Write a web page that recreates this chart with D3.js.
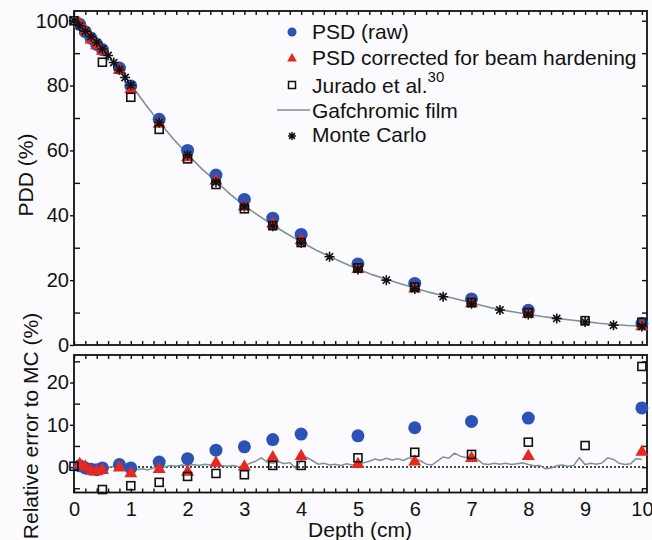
<!DOCTYPE html>
<html>
<head>
<meta charset="utf-8">
<script src="https://cdn.jsdelivr.net/npm/d3@7"></script>
<style>
  body { margin: 0; background: #fbfbfd; }
  svg { display: block; font-family: "Liberation Sans", Arial, sans-serif; }
</style>
</head>
<body>
<script>
var width = 652;
var height = 540;

// Monte Carlo reference
var mcDepth = [0, 0.1, 0.2, 0.3, 0.4, 0.5, 0.6, 0.7, 0.8, 0.9, 1, 1.5, 2, 2.5, 3, 3.5, 4, 4.5, 5, 5.5, 6, 6.5, 7, 7.5, 8, 8.5, 9, 9.5, 10];
var mcPdd = [100, 98.4, 96.8, 95.1, 93.3, 91.3, 89.3, 87.1, 84.9, 82.5, 80.1, 68.6, 58.6, 50.2, 42.7, 36.6, 31.5, 27.2, 23.3, 20.0, 17.3, 14.9, 12.7, 10.8, 9.4, 8.2, 7.1, 6.1, 5.7];

// PSD raw and corrected
var psdDepth = [0.1, 0.2, 0.3, 0.4, 0.5, 0.8, 1, 1.5, 2, 2.5, 3, 3.5, 4, 5, 6, 7, 8, 10];
var rawPdd = [98.9, 96.6, 94.6, 92.7, 91.1, 85.4, 79.9, 69.6, 60.0, 52.4, 44.9, 39.1, 34.1, 25.0, 19.0, 14.2, 10.7, 6.6];
var corrPdd = [99.2, 97.0, 94.3, 92.5, 90.8, 84.9, 79.0, 68.3, 58.0, 50.8, 42.8, 37.5, 32.4, 23.5, 17.5, 13.0, 9.7, 5.9];
var rawErr = [0.3, -0.2, -0.5, -0.6, -0.2, 0.6, -0.2, 1.2, 2.0, 4.0, 4.8, 6.5, 7.8, 7.4, 9.3, 10.8, 11.6, 14.0];
var corrErr = [0.8, 0.2, -0.8, -0.9, -0.6, 0.0, -1.4, -0.4, -1.0, 1.1, 0.2, 2.4, 2.7, 0.8, 1.4, 2.2, 2.7, 3.7];

// Jurado et al.
var jurDepth = [0, 0.5, 1, 1.5, 2, 2.5, 3, 3.5, 4, 5, 6, 7, 8, 9, 10];
var jurPdd = [100, 87.2, 76.4, 66.5, 57.4, 49.5, 42.0, 36.8, 31.6, 23.8, 17.9, 13.1, 10.0, 7.5, 7.0];
var jurErr = [0.2, -5.3, -4.4, -3.6, -2.2, -1.5, -1.8, 0.4, 0.4, 2.2, 3.5, 3.0, 5.9, 5.1, 23.8];

// Gafchromic film
var filmDepth = [0, 0.25, 0.5, 0.75, 1, 1.25, 1.5, 1.75, 2, 2.25, 2.5, 2.75, 3, 3.25, 3.5, 3.75, 4, 4.25, 4.5, 4.75, 5,
  5.25, 5.5, 5.75, 6, 6.25, 6.5, 6.75, 7, 7.25, 7.5, 7.75, 8, 8.25, 8.5, 8.75, 9, 9.25, 9.5, 9.75, 10];
var filmPdd = [100, 96.2, 91.5, 86.2, 80.4, 74.4, 68.8, 63.5, 58.8, 54.3, 50.5, 46.5, 42.9, 39.9, 37.0, 34.3, 31.8, 29.4, 27.3, 25.3, 23.4,
  21.7, 20.3, 18.9, 17.6, 16.3, 15.2, 14.1, 13.0, 11.9, 10.9, 10.2, 9.5, 8.8, 8.2, 7.7, 7.2, 6.7, 6.3, 6.0, 5.8];
// film relative error, every 0.1 cm from 0 to 10
var filmErr = [0.3, -0.2, -0.5, -0.7, -0.4, -0.6, -0.1, 0.2, -0.1, -0.4,
  -0.2, -0.6, -0.4, -0.7, -0.2, 0.3, 0.1, 0.4, 0.2, 0.5,
  0.3, 0.6, 0.4, 0.7, 0.5, 0.8, 0.4, 0.2, 0.4, 0.1,
  0.3, 0.9, 1.4, 2.2, 1.2, 0.9, 1.3, 0.8, 1.1, -0.3,
  1.6, 2.3, 1.5, 0.7, 0.9, 0.5, 0.7, 0.4, 0.8, 0.5,
  0.7, 1.0, 1.4, 1.9, 1.6, 2.1, 1.7, 2.0, 1.6, 2.2,
  1.8, 1.5, 0.7, 0.5, 1.4, 2.4, 2.1, 3.3, 2.6, 2.3,
  2.5, 1.9, 0.8, 0.6, 0.9, 0.7, 0.9, 0.6, 0.8, 1.0,
  0.6, 0.3, 0.4, -0.4, -0.2, 0.3, 0.5, 0.2, 0.4, 2.2,
  0.6, 0.9, 0.7, 1.0, 2.2, 1.8, 0.9, 0.6, 0.8, 2.0,
  1.8];

var xTicks = [0, 1, 2, 3, 4, 5, 6, 7, 8, 9, 10];
var pddTicks = [0, 20, 40, 60, 80, 100];
var errTicks = [0, 10, 20];

var blue = "#2b52b6", red = "#e8281e", film = "#7d9196";

var svg = d3.select("body").append("svg").attr("width", width).attr("height", height);

var x = d3.scaleLinear().domain([0, 10.09]).range([74, 647]);
var yTop = d3.scaleLinear().domain([0, 103]).range([345, 11]);
var yBot = d3.scaleLinear().domain([-6, 26.5]).range([492.5, 355]);

var minorX = d3.range(0, 51).map(function (i) { return i * 0.2; });

function drawAxes(y, top, bottom, majors, minors, rightTicks, labelX) {
    var g = svg.append("g").attr("font-size", 20);
    // top & bottom frames: inward ticks every 0.2
    g.append("g").attr("transform", "translate(0," + top + ")")
        .call(d3.axisBottom(x).tickValues(minorX).tickSize(4).tickFormat(""));
    g.append("g").attr("transform", "translate(0," + bottom + ")")
        .call(d3.axisTop(x).tickValues(minorX).tickSize(4).tickFormat(""));
    // left: majors outward with labels, minors inward
    g.append("g").attr("transform", "translate(74,0)")
        .call(d3.axisLeft(y).tickValues(majors).tickSize(4).tickPadding(1));
    g.append("g").attr("transform", "translate(74,0)")
        .call(d3.axisRight(y).tickValues(minors).tickSize(6).tickFormat(""));
    // right: inward
    g.append("g").attr("transform", "translate(647,0)")
        .call(d3.axisLeft(y).tickValues(rightTicks).tickSize(5).tickFormat(""));
    if (labelX) {
        g.append("g").attr("transform", "translate(0," + bottom + ")")
            .call(d3.axisBottom(x).tickValues(xTicks).tickSize(0).tickPadding(9));
    }
    g.selectAll(".domain").remove();
    g.selectAll("line").attr("stroke", "#111").attr("stroke-width", 1.4);
    g.selectAll("text").attr("fill", "#111").attr("font-size", 20);
    svg.append("rect").attr("x", 74).attr("y", top).attr("width", 647 - 74).attr("height", bottom - top)
        .attr("fill", "none").attr("stroke", "#111").attr("stroke-width", 1.8);
}

drawAxes(yTop, 11, 345, pddTicks, [10, 30, 50, 70, 90], [10, 20, 30, 40, 50, 60, 70, 80, 90, 100], false);
drawAxes(yBot, 355, 492.5, errTicks, [-5, 5, 15, 25], [-5, 0, 5, 10, 15, 20, 25], true);

var tri = "M0,-7L6.5,4.3L-6.5,4.3Z";
var star = "M-5,0L5,0M0,-5L0,5M-3.6,-3.6L3.6,3.6M-3.6,3.6L3.6,-3.6";

// ---- top panel ----
var filmLineTop = d3.line().x(function (d, i) { return x(filmDepth[i]); }).y(function (d) { return yTop(d); });
svg.append("path").attr("d", filmLineTop(filmPdd)).attr("fill", "none").attr("stroke", film).attr("stroke-width", 1.6);

svg.append("g").selectAll("circle").data(rawPdd).enter().append("circle")
    .attr("cx", function (d, i) { return x(psdDepth[i]); })
    .attr("cy", function (d) { return yTop(d); })
    .attr("r", 6.5).attr("fill", blue);
svg.append("g").selectAll("path").data(corrPdd).enter().append("path")
    .attr("d", tri)
    .attr("transform", function (d, i) { return "translate(" + x(psdDepth[i]) + "," + yTop(d) + ")"; })
    .attr("fill", red);
svg.append("g").selectAll("rect").data(jurPdd).enter().append("rect")
    .attr("x", function (d, i) { return x(jurDepth[i]) - 4; })
    .attr("y", function (d) { return yTop(d) - 4; })
    .attr("width", 8).attr("height", 8)
    .attr("fill", "none").attr("stroke", "#111").attr("stroke-width", 1.6);
svg.append("g").selectAll("path").data(mcPdd).enter().append("path")
    .attr("d", star)
    .attr("transform", function (d, i) { return "translate(" + x(mcDepth[i]) + "," + yTop(d) + ")"; })
    .attr("stroke", "#111").attr("stroke-width", 1.6);

// ---- bottom panel ----
svg.append("line").attr("x1", x(0)).attr("x2", 647).attr("y1", yBot(0)).attr("y2", yBot(0))
    .attr("stroke", "#111").attr("stroke-width", 1.5).attr("stroke-dasharray", "2,2");
var filmLineBot = d3.line().x(function (d, i) { return x(i * 0.1); }).y(function (d) { return yBot(d); });
svg.append("path").attr("d", filmLineBot(filmErr)).attr("fill", "none").attr("stroke", film).attr("stroke-width", 1.5);

svg.append("g").selectAll("circle").data(rawErr).enter().append("circle")
    .attr("cx", function (d, i) { return x(psdDepth[i]); })
    .attr("cy", function (d) { return yBot(d); })
    .attr("r", 6.5).attr("fill", blue);
svg.append("g").selectAll("path").data(corrErr).enter().append("path")
    .attr("d", tri)
    .attr("transform", function (d, i) { return "translate(" + x(psdDepth[i]) + "," + yBot(d) + ")"; })
    .attr("fill", red);
svg.append("g").selectAll("rect").data(jurErr).enter().append("rect")
    .attr("x", function (d, i) { return x(jurDepth[i]) - 4; })
    .attr("y", function (d) { return yBot(d) - 4; })
    .attr("width", 8).attr("height", 8)
    .attr("fill", "none").attr("stroke", "#111").attr("stroke-width", 1.6);

// ---- legend ----
var leg = svg.append("g").attr("font-size", 21).attr("fill", "#111");
leg.append("circle").attr("cx", 292).attr("cy", 32).attr("r", 4.5).attr("fill", blue);
leg.append("text").attr("x", 312).attr("y", 39).text("PSD (raw)");
leg.append("path").attr("d", "M0,-5L4.8,3.5L-4.8,3.5Z").attr("transform", "translate(292,58)").attr("fill", red);
leg.append("text").attr("x", 312).attr("y", 65).text("PSD corrected for beam hardening");
leg.append("rect").attr("x", 288.5).attr("y", 81.5).attr("width", 7).attr("height", 7)
    .attr("fill", "none").attr("stroke", "#111").attr("stroke-width", 1.5);
var jt = leg.append("text").attr("x", 312).attr("y", 93);
jt.append("tspan").text("Jurado et al.");
jt.append("tspan").attr("font-size", 15).attr("dy", -11).text("30");
leg.append("line").attr("x1", 277).attr("x2", 310).attr("y1", 110).attr("y2", 110)
    .attr("stroke", film).attr("stroke-width", 1.5);
leg.append("text").attr("x", 312).attr("y", 118).text("Gafchromic film");
leg.append("path").attr("d", "M-4,0L4,0M0,-4L0,4M-2.9,-2.9L2.9,2.9M-2.9,2.9L2.9,-2.9")
    .attr("transform", "translate(292,136)").attr("stroke", "#111").attr("stroke-width", 1.5);
leg.append("text").attr("x", 312).attr("y", 142).text("Monte Carlo");

// ---- axis titles ----
svg.append("text").attr("x", 360).attr("y", 537).attr("text-anchor", "middle")
    .attr("font-size", 21).attr("fill", "#111").text("Depth (cm)");
svg.append("text").attr("transform", "translate(33,175) rotate(-90)").attr("text-anchor", "middle")
    .attr("font-size", 21).attr("fill", "#111").text("PDD (%)");
svg.append("text").attr("transform", "translate(38,426) rotate(-90)").attr("text-anchor", "middle")
    .attr("font-size", 21).attr("fill", "#111").text("Relative error to MC (%)");
</script>
</body>
</html>
